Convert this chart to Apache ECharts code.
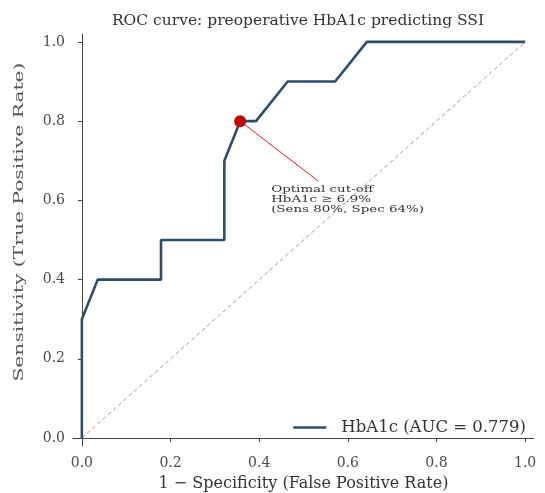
<!DOCTYPE html>
<html>
<head>
<meta charset="utf-8">
<script src="https://cdn.jsdelivr.net/npm/echarts@6/dist/echarts.min.js"></script>
<style>html,body{margin:0;padding:0;background:#fff}#c{width:545px;height:493px}</style>
</head>
<body>
<div id="c"></div>
<script>
// ROC curve points (FPR, TPR)
const fpr = [0, 0, 1/28, 5/28, 5/28, 9/28, 9/28, 10/28, 11/28, 13/28, 16/28, 18/28, 1];
const tpr = [0, 0.3, 0.4, 0.4, 0.5, 0.5, 0.7, 0.8, 0.8, 0.9, 0.9, 1.0, 1.0];
const chanceX = [0, 1];
const chanceY = [0, 1];
const cutoff = [10/28, 0.8];
const annotEnd = [0.533, 0.649];
const annotText = [0.427, 0.602];
const tickValues = [0, 0.2, 0.4, 0.6, 0.8, 1.0];
const aucLabel = 'HbA1c (AUC = 0.779)';
const titleText = 'ROC curve: preoperative HbA1c predicting SSI';
const xName = '1 \u2212 Specificity (False Positive Rate)';
const yName = 'Sensitivity (True Positive Rate)';
const annotLines = ['Optimal cut-off', 'HbA1c \u2265 6.9%', '(Sens 80%, Spec 64%)'];

const font = 'DejaVu Serif';
const chart = echarts.init(document.getElementById('c'), null, {renderer: 'canvas'});
const axisCommon = {
  type: 'value', min: -0.02, max: 1.02,
  axisLine: {show: true, lineStyle: {color: '#444', width: 1}},
  axisTick: {show: true, length: 4, inside: false, customValues: tickValues, lineStyle: {color: '#444'}},
  splitLine: {show: false}
};
const labelCommon = {customValues: tickValues, formatter: v => v.toFixed(1), color: '#4a4a4a', fontFamily: font, fontSize: 14};
chart.setOption({
  animation: false,
  title: {text: titleText, left: 293, top: 8, textAlign: 'center',
    textStyle: {fontFamily: font, fontSize: 15.5, fontWeight: 'normal', color: '#333'}},
  grid: {left: 73, right: 11, top: 34, bottom: 47, containLabel: false, outerBoundsMode: 'none'},
  xAxis: Object.assign({}, axisCommon, {
    axisLabel: Object.assign({}, labelCommon, {margin: 10}),
    name: xName, nameLocation: 'middle', nameGap: 30,
    nameTextStyle: {fontFamily: font, fontSize: 16, color: '#333'}}),
  yAxis: Object.assign({}, axisCommon, {axisLabel: Object.assign({}, labelCommon, {margin: 8})}),
  legend: {
    data: [{name: aucLabel, icon: 'rect'}],
    right: 14, top: 414, itemWidth: 33, itemHeight: 2.5,
    textStyle: {fontFamily: font, fontSize: 16.5, color: '#333', padding: [0, 0, 0, 10]}
  },
  series: [
    {
      type: 'line', name: 'chance', data: chanceX.map((x, i) => [x, chanceY[i]]),
      symbol: 'none', lineStyle: {color: '#a0a0a0', width: 1, type: [4, 3]}, z: 1, silent: true
    },
    {
      type: 'line', name: aucLabel, data: fpr.map((x, i) => [x, tpr[i]]),
      symbol: 'none', itemStyle: {color: '#2e4d6d'}, lineStyle: {color: '#2e4d6d', width: 2.6}, z: 3
    },
    {
      type: 'scatter', name: 'cutoff', data: [cutoff], symbol: 'circle', symbolSize: 12,
      itemStyle: {color: '#c00000', opacity: 1}, z: 5,
      markLine: {
        silent: true, symbol: ['none', 'none'], animation: false,
        lineStyle: {color: '#d42020', width: 1, type: 'solid', opacity: 1},
        label: {show: false},
        data: [[{coord: cutoff}, {coord: annotEnd}]]
      }
    }
  ]
});
const tp = chart.convertToPixel({gridIndex: 0}, annotText);
chart.setOption({
  graphic: [
    {type: 'text', x: tp[0], y: tp[1], scaleX: 1.34, z: 10,
      style: {text: annotLines.join('\n'), fontFamily: font, fontSize: 10, lineHeight: 10,
        fill: '#333', align: 'left', verticalAlign: 'middle'}},
    {type: 'text', x: 19, y: 222, rotation: Math.PI / 2, scaleX: 1.5, z: 10,
      style: {text: yName, fontFamily: font, fontSize: 13.5, fill: '#555', align: 'center', verticalAlign: 'middle'}}
  ]
});
</script>
</body>
</html>
